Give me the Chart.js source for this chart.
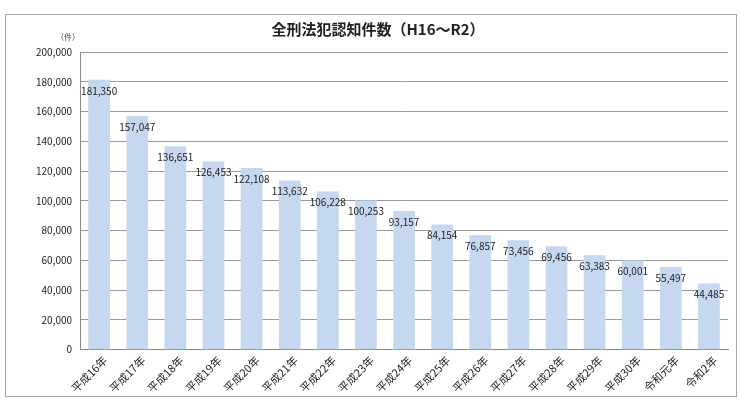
<!DOCTYPE html>
<html>
<head>
<meta charset="utf-8">
<script src="https://cdn.jsdelivr.net/npm/chart.js@4"></script>
<style>
  html, body { margin: 0; padding: 0; background: #fff; }
  #wrap { width: 740px; height: 417px; }
</style>
</head>
<body>
<div id="wrap"><canvas id="chart" width="740" height="417"></canvas></div>
<script>
// --- data ---
const years = ["平成16年", "平成17年", "平成18年", "平成19年", "平成20年", "平成21年",
  "平成22年", "平成23年", "平成24年", "平成25年", "平成26年", "平成27年",
  "平成28年", "平成29年", "平成30年", "令和元年", "令和2年"];
const counts = [181350, 157047, 136651, 126453, 122108, 113632, 106228, 100253,
  93157, 84154, 76857, 73456, 69456, 63383, 60001, 55497, 44485];
const yMax = 200000;
const yStep = 20000;

const jpFont = "'Noto Sans CJK JP', 'Noto Sans', sans-serif";

// outer frame + unit label + value labels
const decorations = {
  id: "decorations",
  beforeDraw(chart) {
    const c = chart.ctx;
    c.save();
    c.fillStyle = "#fff";
    c.fillRect(0, 0, chart.width, chart.height);
    c.strokeStyle = "#a6a6a6";
    c.lineWidth = 1;
    c.strokeRect(5.5, 14.5, 731, 382);
    c.restore();
  },
  afterDatasetsDraw(chart) {
    const c = chart.ctx;
    const meta = chart.getDatasetMeta(0);
    c.save();
    c.font = "10px " + jpFont;
    c.fillStyle = "#222";
    c.textAlign = "center";
    c.textBaseline = "middle";
    meta.data.forEach((bar, i) => {
      c.fillText(counts[i].toLocaleString("en-US"), bar.x, bar.y + 11);
    });
    // unit
    const y = chart.scales.y;
    c.font = "8px " + jpFont;
    c.fillStyle = "#444";
    c.fillText("（件）", y.right - 12, y.top - 15);
    c.restore();
  }
};

const ctx = document.getElementById("chart").getContext("2d");
const chart = new Chart(ctx, {
  type: "bar",
  data: {
    labels: years,
    datasets: [{
      data: counts,
      backgroundColor: "#c6d8f0",
      borderWidth: 0,
      categoryPercentage: 1,
      barPercentage: 0.57
    }]
  },
  options: {
    responsive: false,
    animation: false,
    layout: { padding: { left: 28, right: 12, top: 4, bottom: 18 } },
    plugins: {
      legend: { display: false },
      tooltip: { enabled: false },
      title: {
        display: true,
        text: "全刑法犯認知件数（H16〜R2）",
        color: "#222",
        font: { family: jpFont, size: 15, weight: "bold" },
        padding: { top: 16, bottom: 14 }
      }
    },
    scales: {
      x: {
        grid: { display: false, drawTicks: false },
        border: { color: "#8c8c8c" },
        ticks: {
          color: "#222",
          font: { family: jpFont, size: 11 },
          maxRotation: 45,
          minRotation: 45,
          padding: 4,
          labelOffset: 6
        }
      },
      y: {
        min: 0,
        max: yMax,
        grid: { color: "#999", drawTicks: false },
        border: { color: "#8c8c8c" },
        ticks: {
          stepSize: yStep,
          color: "#222",
          padding: 8,
          font: { family: jpFont, size: 10 },
          callback: v => v.toLocaleString("en-US")
        }
      }
    }
  },
  plugins: [decorations]
});
</script>
</body>
</html>
